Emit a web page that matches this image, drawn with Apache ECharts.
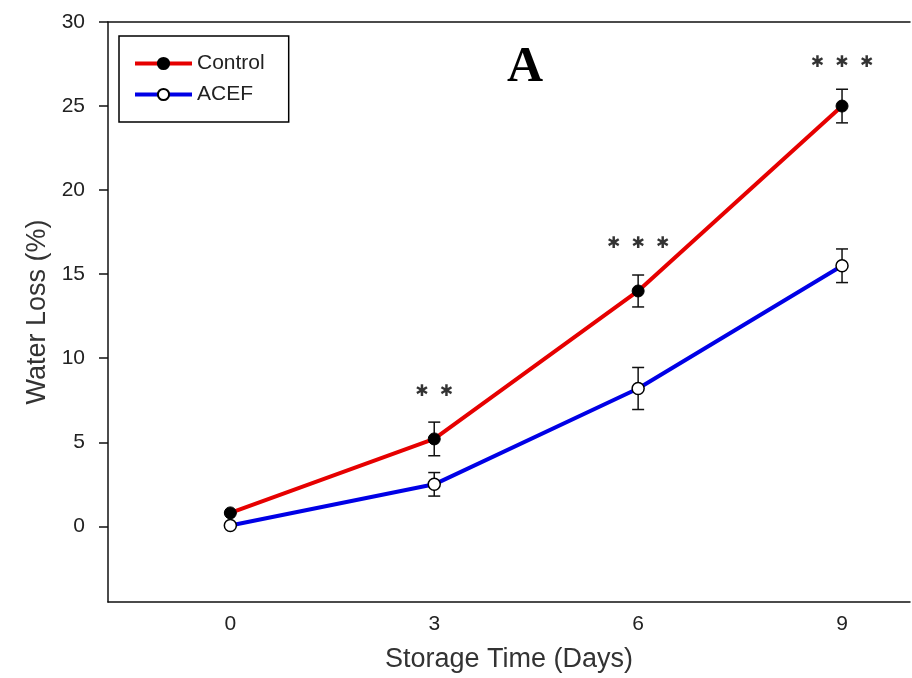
<!DOCTYPE html>
<html>
<head>
<meta charset="utf-8">
<script src="https://cdn.jsdelivr.net/npm/echarts@6/dist/echarts.min.js"></script>
<style>
  html, body { margin: 0; padding: 0; background: #fff; }
  #chart { width: 912px; height: 678px; }
</style>
</head>
<body>
<div id="chart"></div>
<script>
// storage days and water loss (%)
var days = [0, 3, 6, 9];
var controlMean = [0.8, 5.2, 14.0, 25.0];
var controlErr = [0, 1.0, 0.95, 1.0];
var acefMean = [0.05, 2.5, 8.2, 15.5];
var acefErr = [0, 0.7, 1.25, 1.0];
// significance marks
var sigX = [3, 6, 9];
var sigY = [8.0, 16.8, 27.6];
var sigText = ['✱  ✱', '✱  ✱  ✱', '✱  ✱  ✱'];
var yTicks = [0, 5, 10, 15, 20, 25, 30];
var xTicks = [0, 3, 6, 9];

var font = 'Liberation Sans';

function errData(mean, err) {
  return days.map(function (d, i) { return [d, mean[i] - err[i], mean[i] + err[i]]; });
}

var errorBars = function (api) {
  var x = api.value(0);
  var lo = api.coord([x, api.value(1)]);
  var hi = api.coord([x, api.value(2)]);
  var cap = 6;
  var st = { stroke: '#111', lineWidth: 1.5, fill: null };
  return {
    type: 'group',
    children: [
      { type: 'line', shape: { x1: lo[0], y1: lo[1], x2: hi[0], y2: hi[1] }, style: st },
      { type: 'line', shape: { x1: lo[0] - cap, y1: lo[1], x2: lo[0] + cap, y2: lo[1] }, style: st },
      { type: 'line', shape: { x1: hi[0] - cap, y1: hi[1], x2: hi[0] + cap, y2: hi[1] }, style: st }
    ]
  };
};

var chart = echarts.init(document.getElementById('chart'));
chart.setOption({
  animation: false,
  backgroundColor: '#fff',
  title: {
    text: 'A',
    left: 502, top: 38,
    textStyle: { fontFamily: 'Liberation Serif', fontWeight: 'bold', fontSize: 50, color: '#000' }
  },
  legend: {
    left: 119, top: 36,
    orient: 'vertical',
    data: ['Control', 'ACEF'],
    borderColor: '#000', borderWidth: 1.5,
    padding: [17, 24, 17, 14],
    itemWidth: 57, itemHeight: 14, itemGap: 10,
    lineStyle: { width: 4 },
    textStyle: { fontFamily: font, fontSize: 21, color: '#222' }
  },
  grid: { left: 108, right: 2, top: 22, bottom: 74 },
  xAxis: [{
    type: 'value',
    min: -1.8, max: 10,
    name: 'Storage Time (Days)',
    nameLocation: 'middle',
    nameGap: 44,
    nameTextStyle: { fontFamily: font, fontSize: 27, color: '#333' },
    axisLine: { onZero: false, lineStyle: { color: '#111', width: 1.5 } },
    axisTick: { show: false },
    splitLine: { show: false },
    axisLabel: { customValues: xTicks, margin: 12, fontFamily: font, fontSize: 21, color: '#222' }
  }, {
    type: 'value',
    position: 'top',
    min: -1.8, max: 10,
    axisLine: { show: true, onZero: false, lineStyle: { color: '#111', width: 1.5 } },
    axisTick: { show: false },
    axisLabel: { show: false },
    splitLine: { show: false }
  }],
  yAxis: {
    type: 'value',
    min: -4.5, max: 30,
    name: 'Water Loss (%)',
    nameLocation: 'middle',
    nameGap: 57,
    nameTextStyle: { fontFamily: font, fontSize: 27, color: '#333' },
    axisLine: { show: true, onZero: false, lineStyle: { color: '#111', width: 1.5 } },
    axisTick: { show: true, customValues: yTicks, length: 9, lineStyle: { color: '#111', width: 1.5 } },
    splitLine: { show: false },
    axisLabel: { customValues: yTicks, margin: 23, fontFamily: font, fontSize: 21, color: '#222' }
  },
  series: [
    {
      type: 'custom',
      renderItem: function (params, api) { return errorBars(api); },
      data: errData(controlMean, controlErr),
      z: 1, silent: true
    },
    {
      type: 'custom',
      renderItem: function (params, api) { return errorBars(api); },
      data: errData(acefMean, acefErr),
      z: 1, silent: true
    },
    {
      name: 'Control',
      type: 'line',
      data: days.map(function (d, i) { return [d, controlMean[i]]; }),
      symbol: 'circle', symbolSize: 12,
      lineStyle: { color: '#e60000', width: 4 },
      itemStyle: { color: '#000', borderColor: '#000', borderWidth: 1 },
      z: 3
    },
    {
      name: 'ACEF',
      type: 'line',
      data: days.map(function (d, i) { return [d, acefMean[i]]; }),
      symbol: 'circle', symbolSize: 12,
      lineStyle: { color: '#0000e6', width: 4 },
      itemStyle: { color: '#fff', borderColor: '#000', borderWidth: 1.5 },
      z: 3
    },
    {
      type: 'scatter',
      data: sigX.map(function (x, i) { return [x, sigY[i], sigText[i]]; }),
      symbolSize: 0,
      silent: true,
      label: {
        show: true, position: 'inside',
        formatter: function (p) { return p.data[2]; },
        fontFamily: 'DejaVu Sans', fontWeight: 'bold', fontSize: 16, color: '#000'
      }
    }
  ]
});
</script>
</body>
</html>
